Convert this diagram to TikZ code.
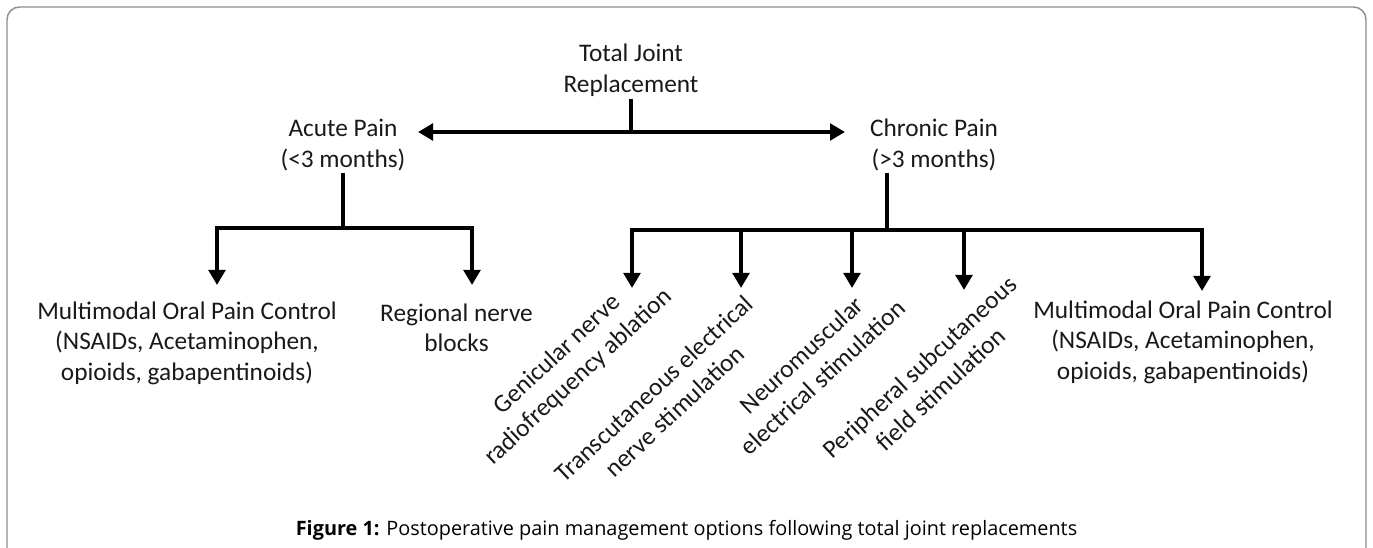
\documentclass[tikz,border=0pt]{standalone}
\usepackage{fontspec}
\setmainfont{Carlito}
\newfontfamily\captionfont{Open Sans}
\usetikzlibrary{arrows.meta,positioning,calc}
\tikzset{
  textnode/.style={
    align=center,
    inner sep=1pt,
    text=black!90,
    font=\fontsize{14.4}{17.4}\selectfont
  },
  slanted/.style={textnode, rotate=43},
  branch/.style={line width=2.2pt, line join=miter},
  flow/.style={branch,-{Triangle[length=3mm,width=3.3mm]}},
  frameline/.style={draw=black!45, line width=0.8pt, rounded corners=2.5mm}
}
\begin{document}
\begin{tikzpicture}[x=1cm,y=1cm]
\useasboundingbox (0,0) rectangle (27.46,10.94);

% Marco de la figura (abierto por abajo)
\draw[frameline] (0.14,-0.5) -- (0.14,10.8) -- (27.32,10.8) -- (27.32,-0.5);

% Nivel superior
\node[textnode] (totalT) at (12.62,9.53) {Total Joint\\Replacement};
\node[textnode] (acuteT) at (6.86,8.04) {Acute Pain\\(<3 months)};
\node[textnode] (chronicT) at (18.68,8.04) {Chronic Pain\\(>3 months)};

\coordinate (jointC) at (12.62,8.30);
\coordinate (acuteTip) at (8.36,8.30);
\coordinate (chronicTip) at (16.90,8.30);

\draw[branch] (totalT.south) -- (jointC);
\draw[flow] (jointC) -- (acuteTip);
\draw[flow] (jointC) -- (chronicTip);

% Rama aguda
\coordinate (acuteJ) at (6.86,6.38);
\coordinate (oralTipL) at (4.34,5.24);
\coordinate (regionalTip) at (9.44,5.24);

\draw[branch] (acuteT.south) -- (acuteJ);
\draw[flow] (acuteJ) -| (oralTipL);
\draw[flow] (acuteJ) -| (regionalTip);

\node[textnode] (oralL) at (3.74,4.08)
  {Multimodal Oral Pain Control\\(NSAIDs, Acetaminophen,\\opioids, gabapentinoids)};
\node[textnode] (regionalA) at (9.13,4.38) {Regional nerve\\blocks};

% Rama cronica
\coordinate (chronicJ) at (17.74,6.34);
\coordinate (genTip) at (12.64,5.18);
\coordinate (tensTip) at (14.82,5.18);
\coordinate (nmesTip) at (17.04,5.18);
\coordinate (pfsTip) at (19.28,5.14);
\coordinate (oralTipR) at (24.04,5.12);

\draw[branch] (chronicJ |- chronicT.south) -- (chronicJ);
\draw[flow] (chronicJ) -| (genTip);
\draw[flow] (chronicJ) -| (oralTipR);
\draw[flow] (tensTip |- chronicJ) -- (tensTip);
\draw[flow] (nmesTip |- chronicJ) -- (nmesTip);
\draw[flow] (pfsTip |- chronicJ) -- (pfsTip);

% Textos inclinados
\node[slanted] (genicularR) at (11.36,3.62)
  {Genicular nerve\\radiofrequency ablation};
\node[slanted] (tensR) at (13.28,2.94)
  {Transcutaneous electrical\\nerve stimulation};
\node[slanted] (nmesR) at (16.24,3.62)
  {Neuromuscular\\electrical stimulation};
\node[slanted] (pfsR) at (18.60,3.38)
  {Peripheral subcutaneous\\field stimulation};

\node[textnode] (oralR) at (23.66,4.10)
  {Multimodal Oral Pain Control\\(NSAIDs, Acetaminophen,\\opioids, gabapentinoids)};

% Leyenda
\node[font=\captionfont\fontsize{11.3}{13.5}\selectfont, text=black] (captionN) at (13.73,0.34)
  {\textbf{Figure 1:} Postoperative pain management options following total joint replacements};

\end{tikzpicture}
\end{document}
